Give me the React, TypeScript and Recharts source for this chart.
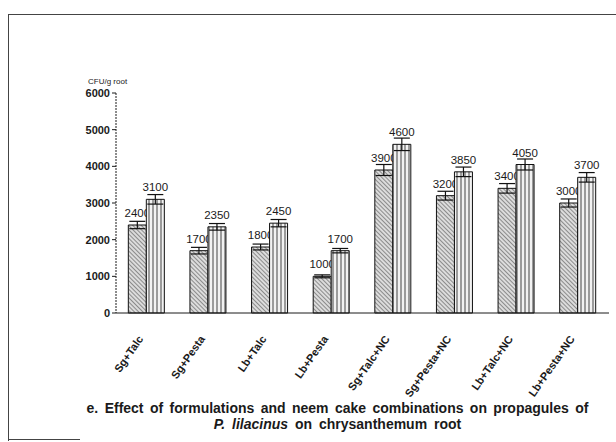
import React from "react";
import { BarChart, Bar, XAxis, YAxis, ErrorBar, LabelList } from "recharts";

// treatments on the x axis
const categories = [
  "Sg+Talc",
  "Sg+Pesta",
  "Lb+Talc",
  "Lb+Pesta",
  "Sg+Talc+NC",
  "Sg+Pesta+NC",
  "Lb+Talc+NC",
  "Lb+Pesta+NC",
];

// CFU/g root, hatched (first) and striped (second) bars
const seriesA = [2400, 1700, 1800, 1000, 3900, 3200, 3400, 3000];
const seriesB = [3100, 2350, 2450, 1700, 4600, 3850, 4050, 3700];

// error bar half-lengths
const errorsA = [100, 90, 80, 40, 150, 120, 130, 110];
const errorsB = [130, 90, 100, 60, 170, 130, 150, 130];

const yTicks = [0, 1000, 2000, 3000, 4000, 5000, 6000];

const data = categories.map((name, i) => ({
  name,
  a: seriesA[i],
  b: seriesB[i],
  errA: errorsA[i],
  errB: errorsB[i],
}));

const FONT = "'Liberation Sans', Arial, sans-serif";
const INK = "#1a1a1a";

const CategoryTick = (props: any) => {
  const { x, y, payload } = props;
  return (
    <g transform={`translate(${x - 3},${y + 18})`}>
      <text
        x={0}
        y={0}
        textAnchor="end"
        transform="rotate(-55)"
        fontSize={11}
        fontWeight="bold"
        fontFamily={FONT}
        fill={INK}
      >
        {payload.value}
      </text>
    </g>
  );
};

const App = () => {
  return (
    <div
      style={{
        position: "absolute",
        left: 0,
        top: 0,
        width: 616,
        height: 442,
        background: "#fff",
        fontFamily: FONT,
        color: INK,
      }}
    >
      {/* scanned frame */}
      <div
        style={{
          position: "absolute",
          left: 8,
          top: 14,
          width: 608,
          height: 426,
          borderTop: "1px solid #444",
          borderLeft: "1px solid #444",
        }}
      />
      <div
        style={{
          position: "absolute",
          left: 8,
          top: 439,
          width: 72,
          borderTop: "1px solid #444",
        }}
      />

      <div
        style={{
          position: "absolute",
          left: 88,
          top: 77,
          fontSize: 8,
          whiteSpace: "nowrap",
        }}
      >
        CFU/g root
      </div>

      <BarChart
        width={616}
        height={442}
        data={data}
        margin={{ top: 93, right: 7, left: 0, bottom: 69 }}
        barCategoryGap="20%"
        barGap={0}
        style={{ position: "absolute", left: 0, top: 0 }}
      >
        <defs>
          <pattern
            id="hatchA"
            patternUnits="userSpaceOnUse"
            width="3"
            height="3"
            patternTransform="rotate(-45)"
          >
            <rect width="3" height="3" fill="#dcdcdc" />
            <line x1="0" y1="0" x2="0" y2="3" stroke="#555" strokeWidth="1.2" />
          </pattern>
          <pattern
            id="hatchB"
            patternUnits="userSpaceOnUse"
            width="4"
            height="4"
          >
            <rect width="4" height="4" fill="#f2f2f2" />
            <line x1="1" y1="0" x2="1" y2="4" stroke="#444" strokeWidth="1" />
          </pattern>
        </defs>
        <XAxis
          dataKey="name"
          height={60}
          interval={0}
          tickLine={false}
          axisLine={{ stroke: INK }}
          tick={<CategoryTick />}
        />
        <YAxis
          width={116}
          domain={[0, 6000]}
          ticks={yTicks}
          tickSize={4}
          axisLine={{ stroke: INK, strokeDasharray: "2 1" }}
          tickLine={{ stroke: INK }}
          tick={{
            fontSize: 11,
            fontWeight: "bold",
            fontFamily: FONT,
            fill: INK,
          }}
        />
        <Bar
          dataKey="a"
          fill="url(#hatchA)"
          stroke="#111"
          strokeWidth={1}
          isAnimationActive={false}
        >
          <ErrorBar dataKey="errA" width={8} stroke="#111" strokeWidth={1.2} />
          <LabelList
            dataKey="a"
            position="top"
            offset={8}
            fill={INK}
            fontSize={11.5}
            fontFamily={FONT}
            zIndex={250}
          />
        </Bar>
        <Bar
          dataKey="b"
          fill="url(#hatchB)"
          stroke="#111"
          strokeWidth={1}
          isAnimationActive={false}
        >
          <ErrorBar dataKey="errB" width={8} stroke="#111" strokeWidth={1.2} />
          <LabelList
            dataKey="b"
            position="top"
            offset={8}
            fill={INK}
            fontSize={11.5}
            fontFamily={FONT}
          />
        </Bar>
      </BarChart>

      <div
        style={{
          position: "absolute",
          left: 0,
          width: 675,
          top: 400,
          textAlign: "center",
          fontSize: 14,
          fontWeight: "bold",
          wordSpacing: 2.5,
          whiteSpace: "nowrap",
        }}
      >
        e. Effect of formulations and neem cake combinations on propagules of
      </div>
      <div
        style={{
          position: "absolute",
          left: 0,
          width: 675,
          top: 416,
          textAlign: "center",
          fontSize: 14,
          fontWeight: "bold",
          wordSpacing: 3,
          whiteSpace: "nowrap",
        }}
      >
        <i>P. lilacinus</i> on chrysanthemum root
      </div>
    </div>
  );
};

export default App;
